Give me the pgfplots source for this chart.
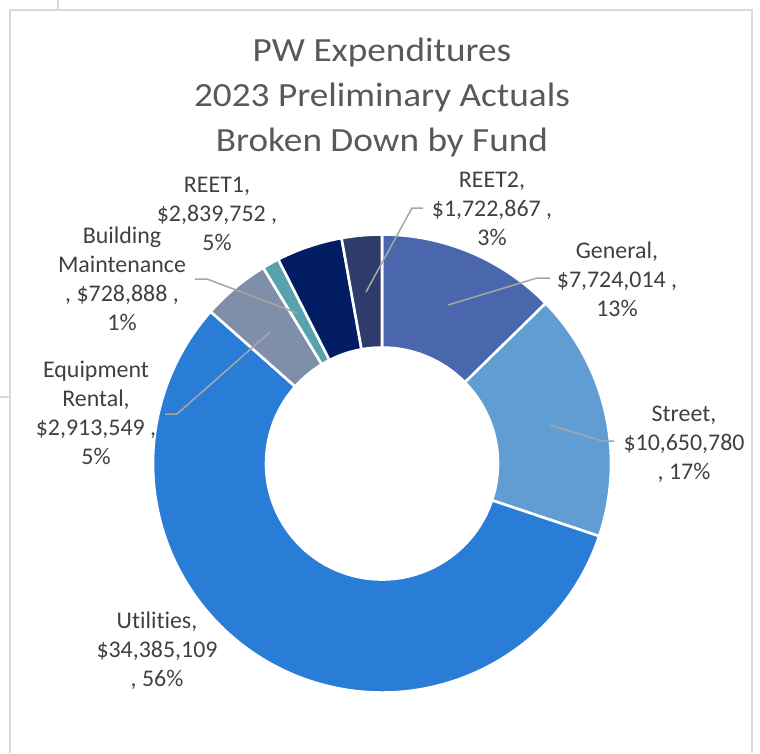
\documentclass[border=0pt]{standalone}
\usepackage{pgfplots}
\pgfplotsset{compat=1.18}
\usepackage{pgfplotstable}
\usepackage{fontspec}
\setmainfont[Ligatures={NoCommon}]{Carlito}
\newfontfamily\titlefont[FakeStretch=1.1, Ligatures={NoCommon}]{Carlito}
\usetikzlibrary{calc}

\definecolor{cGeneral}{HTML}{4A66AC}
\definecolor{cStreet}{HTML}{5F9DD3}
\definecolor{cUtil}{HTML}{2A7DD6}
\definecolor{cEquip}{HTML}{7F8EA9}
\definecolor{cBM}{HTML}{58A2AE}
\definecolor{cREETa}{HTML}{021D63}
\definecolor{cREETb}{HTML}{2D3C6A}
\definecolor{titlegray}{HTML}{595959}
\definecolor{lblgray}{HTML}{404040}
\definecolor{leader}{HTML}{A6A6A6}
\definecolor{frame}{HTML}{D9D9D9}

% fund totals, clockwise from 12 o'clock
\pgfplotstableread[col sep=comma]{
fund,value
General,7724014
Street,10650780
Utilities,34385109
Equipment Rental,2913549
Building Maintenance,728888
REET1,2839752
REET2,1722867
}\fundtable

% slice angles from the table
\xdef\total{0}%
\foreach \i in {0,...,6}{%
  \pgfplotstablegetelem{\i}{value}\of\fundtable
  \xdef\total{\fpeval{\total+\pgfplotsretval}}}%
\xdef\run{0}%
\foreach \i in {0,...,6}{%
  \expandafter\xdef\csname angS\i\endcsname{\fpeval{90-360*\run/\total}}%
  \pgfplotstablegetelem{\i}{value}\of\fundtable
  \xdef\run{\fpeval{\run+\pgfplotsretval}}%
  \expandafter\xdef\csname angE\i\endcsname{\fpeval{90-360*\run/\total}}}%

\newcommand\slice[2]{% row, colour
  \fill[#2, draw=white, line width=2.6bp]
    (axis cs:382,463.5) ++(\csname angS#1\endcsname:229bp)
    arc[start angle=\csname angS#1\endcsname, end angle=\csname angE#1\endcsname, radius=229bp]
    -- ($(axis cs:382,463.5)+(\csname angE#1\endcsname:116bp)$)
    arc[start angle=\csname angE#1\endcsname, end angle=\csname angS#1\endcsname, radius=116bp]
    -- cycle;}
\newcommand\tl[3]{\node[lbl] at (axis cs:#1,#2) {#3};}

\begin{document}
\begin{tikzpicture}[
    lbl/.style={anchor=base, inner sep=0pt, text=lblgray, font=\fontsize{24}{29}\selectfont},
    ttl/.style={anchor=base, inner sep=0pt, text=titlegray, font=\titlefont\fontsize{34}{45}\selectfont},
  ]
\begin{axis}[
    width=760bp, height=753bp, scale only axis,
    xmin=0, xmax=760, ymin=0, ymax=753, y dir=reverse,
    hide axis, clip=false,
  ]
  % chart frame and sheet gridlines
  \draw[frame, line width=1.6bp] (axis cs:10,753) -- (axis cs:10,10) -- (axis cs:752,10) -- (axis cs:752,753);
  \draw[frame, line width=1.4bp] (axis cs:58,0) -- (axis cs:58,10);
  \draw[frame, line width=1.4bp] (axis cs:0,397) -- (axis cs:10,397);

  \slice{0}{cGeneral}
  \slice{1}{cStreet}
  \slice{2}{cUtil}
  \slice{3}{cEquip}
  \slice{4}{cBM}
  \slice{5}{cREETa}
  \slice{6}{cREETb}

  % leader lines
  \draw[leader, line width=1.5bp] (axis cs:366,292) -- (axis cs:412,208) -- (axis cs:423,208);
  \draw[leader, line width=1.5bp] (axis cs:448,305) -- (axis cs:537,278) -- (axis cs:550,278);
  \draw[leader, line width=1.5bp] (axis cs:550,425) -- (axis cs:602,441) -- (axis cs:614,441);
  \draw[leader, line width=1.5bp] (axis cs:297,313) -- (axis cs:207,279) -- (axis cs:195,279);
  \draw[leader, line width=1.5bp] (axis cs:270,332) -- (axis cs:177,414) -- (axis cs:165,414);

  % title
  \node[ttl] at (axis cs:382,61.7) {PW Expenditures};
  \node[ttl] at (axis cs:382,106.7) {2023 Preliminary Actuals};
  \node[ttl] at (axis cs:382,151.7) {Broken Down by Fund};

  % data labels
  \tl{492}{187}{REET2,}        \tl{492}{216}{\$1,722,867 ,}  \tl{492}{245}{3\%}
  \tl{617}{258}{General,}      \tl{617}{287}{\$7,724,014 ,}  \tl{617}{316}{13\%}
  \tl{684}{421}{Street,}       \tl{684}{450}{\$10,650,780}   \tl{684}{479}{, 17\%}
  \tl{157}{628}{Utilities,}    \tl{157}{657}{\$34,385,109}   \tl{157}{686}{, 56\%}
  \tl{96}{377}{Equipment}      \tl{96}{406}{Rental,}         \tl{96}{435}{\$2,913,549 ,}   \tl{96}{464}{5\%}
  \tl{122}{243}{Building}      \tl{122}{272}{Maintenance}    \tl{122}{301}{, \$728,888 ,}  \tl{122}{330}{1\%}
  \tl{217}{192}{REET1,}        \tl{217}{221}{\$2,839,752 ,}  \tl{217}{250}{5\%}
\end{axis}
\pgfresetboundingbox
\path (current axis.south west) rectangle (current axis.north east);
\end{tikzpicture}
\end{document}
